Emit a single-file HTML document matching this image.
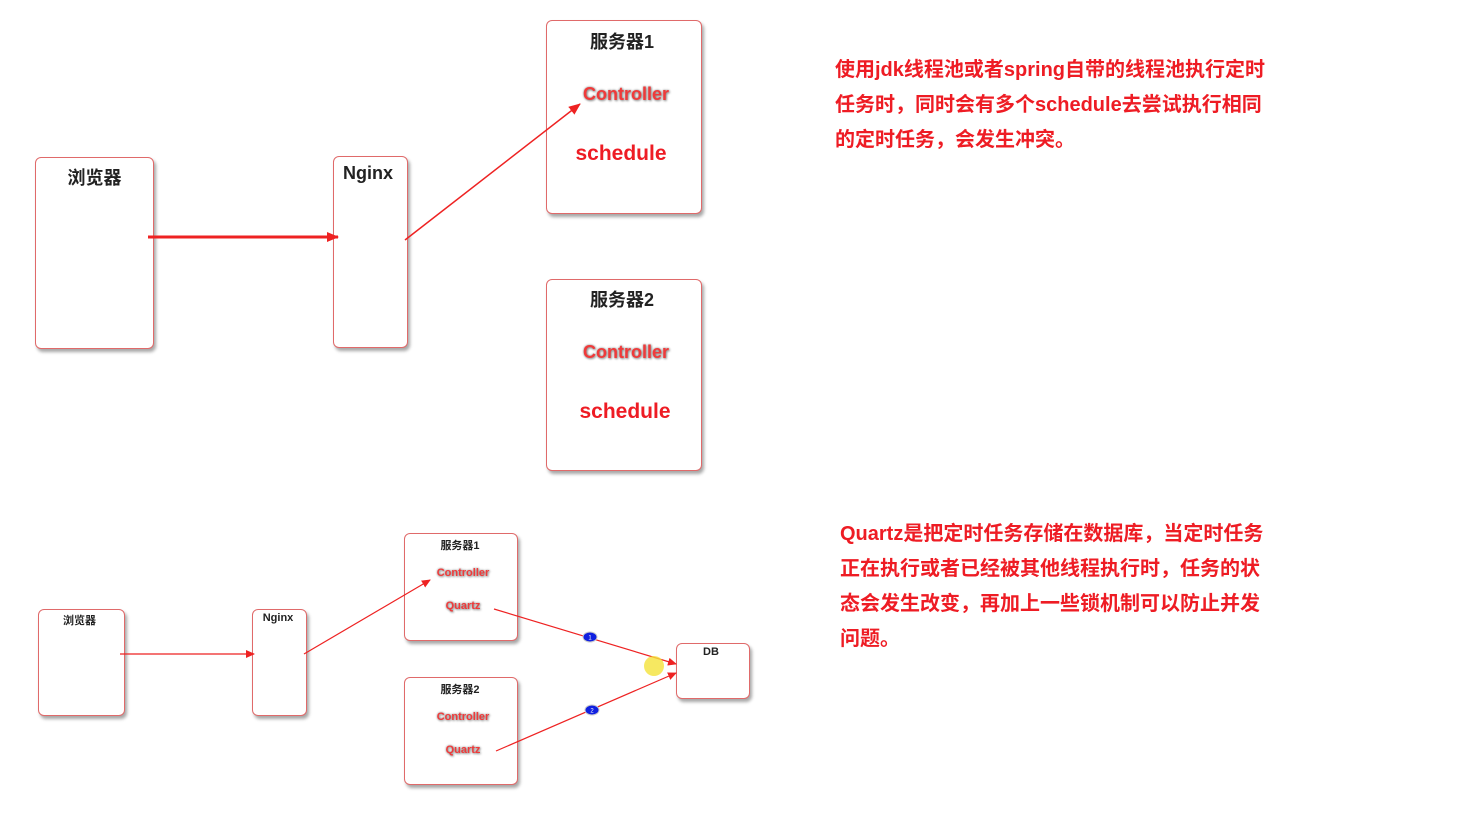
<!DOCTYPE html>
<html><head><meta charset="utf-8"><style>
body{margin:0;width:1459px;height:823px;background:#fff;position:relative;overflow:hidden;font-family:"Liberation Sans","Noto Sans CJK SC",sans-serif}
.b{position:absolute;box-sizing:border-box;border:1px solid #e06a6a;border-radius:6px;background:#fff;box-shadow:2px 3px 3px rgba(0,0,0,.35)}
.t{position:absolute;white-space:nowrap;text-align:center}
.h{color:#222;font-weight:bold}
.c{color:#f03a3a;font-weight:bold;text-shadow:0 0 2px #888,1px 1px 2px #999;}
.s{color:#ee1c24;font-weight:bold}
.r{position:absolute;color:#ee1c24;font-weight:bold;font-size:20px;white-space:nowrap;line-height:35px}
</style></head><body>
<div class="b" style="left:35px;top:157px;width:119px;height:192px"></div>
<div class="t h" style="left:35px;top:164px;width:119px;font-size:18px">浏览器</div>
<div class="b" style="left:333px;top:156px;width:75px;height:192px"></div>
<div class="t h" style="left:333px;top:163px;width:70px;font-size:18px">Nginx</div>
<div class="b" style="left:546px;top:20px;width:156px;height:194px"></div>
<div class="t h" style="left:546px;top:28px;width:152px;font-size:18px">服务器1</div>
<div class="t c" style="left:546px;top:84px;width:160px;font-size:18px">Controller</div>
<div class="t s" style="left:546px;top:142px;width:150px;font-size:21px">schedule</div>
<div class="b" style="left:546px;top:279px;width:156px;height:192px"></div>
<div class="t h" style="left:546px;top:286px;width:152px;font-size:18px">服务器2</div>
<div class="t c" style="left:546px;top:342px;width:160px;font-size:18px">Controller</div>
<div class="t s" style="left:546px;top:400px;width:158px;font-size:21px">schedule</div>

<div class="b" style="left:38px;top:609px;width:87px;height:107px"></div>
<div class="t h" style="left:38px;top:612px;width:83px;font-size:11px">浏览器</div>
<div class="b" style="left:252px;top:609px;width:55px;height:107px"></div>
<div class="t h" style="left:252px;top:612px;width:52px;font-size:11px">Nginx</div>
<div class="b" style="left:404px;top:533px;width:114px;height:108px"></div>
<div class="t h" style="left:404px;top:537px;width:112px;font-size:11px">服务器1</div>
<div class="t c" style="left:404px;top:567px;width:118px;font-size:11px">Controller</div>
<div class="t c" style="left:404px;top:600px;width:118px;font-size:11px">Quartz</div>
<div class="b" style="left:404px;top:677px;width:114px;height:108px"></div>
<div class="t h" style="left:404px;top:681px;width:112px;font-size:11px">服务器2</div>
<div class="t c" style="left:404px;top:711px;width:118px;font-size:11px">Controller</div>
<div class="t c" style="left:404px;top:744px;width:118px;font-size:11px">Quartz</div>
<div class="b" style="left:676px;top:643px;width:74px;height:56px"></div>
<div class="t h" style="left:676px;top:646px;width:70px;font-size:11px">DB</div>

<svg width="1459" height="823" style="position:absolute;left:0;top:0">
<defs><marker id="a" markerUnits="userSpaceOnUse" markerWidth="12" markerHeight="10" refX="11" refY="5" orient="auto"><path d="M0,0L12,5L0,10z" fill="#ee2222"/></marker>
<marker id="m" markerUnits="userSpaceOnUse" markerWidth="9" markerHeight="8" refX="8" refY="4" orient="auto"><path d="M0,0L9,4L0,8z" fill="#ee2222"/></marker></defs>
<g stroke="#ee2222" fill="none">
<line x1="148" y1="237" x2="338" y2="237" stroke-width="3" marker-end="url(#a)"/>
<line x1="405" y1="240" x2="580" y2="104" stroke-width="1.5" marker-end="url(#a)"/>
<line x1="120" y1="654" x2="254" y2="654" stroke-width="1.2" marker-end="url(#m)"/>
<line x1="304" y1="654" x2="430" y2="580" stroke-width="1.2" marker-end="url(#m)"/>
<line x1="494" y1="609" x2="676" y2="664" stroke-width="1.2" marker-end="url(#m)"/>
<line x1="496" y1="751" x2="676" y2="673" stroke-width="1.2" marker-end="url(#m)"/>
</g>
<circle cx="654" cy="666" r="10" fill="#f4e23a" opacity=".8"/>
<ellipse cx="590" cy="637" rx="7" ry="5" fill="#1020e0" stroke="#ccc"/>
<ellipse cx="592" cy="710" rx="7" ry="5" fill="#1020e0" stroke="#ccc"/>
<text x="590" y="639.5" font-size="6" fill="#fff" text-anchor="middle" font-family="Liberation Sans">1</text>
<text x="592" y="712.5" font-size="6" fill="#fff" text-anchor="middle" font-family="Liberation Sans">2</text>
</svg>

<div class="r" style="left:835px;top:53px">使用jdk线程池或者spring自带的线程池执行定时<br>任务时，同时会有多个schedule去尝试执行相同<br>的定时任务，会发生冲突。</div>
<div class="r" style="left:840px;top:517px">Quartz是把定时任务存储在数据库，当定时任务<br>正在执行或者已经被其他线程执行时，任务的状<br>态会发生改变，再加上一些锁机制可以防止并发<br>问题。</div>
</body></html>
